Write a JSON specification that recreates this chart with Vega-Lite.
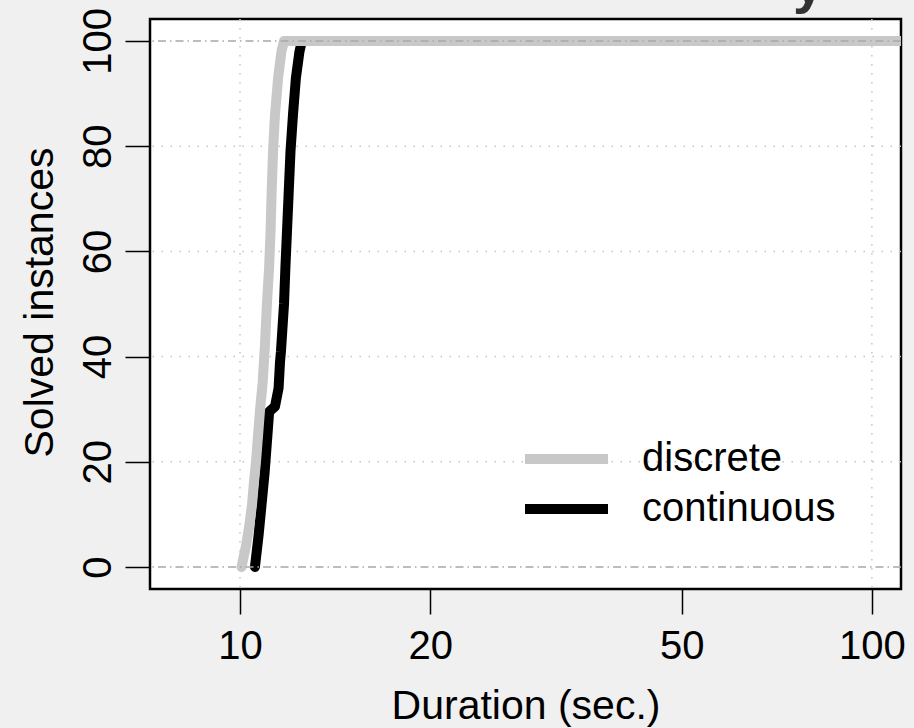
{
  "$schema": "https://vega.github.io/schema/vega-lite/v6.json",
  "width": 751,
  "height": 570,
  "autosize": {"type": "none"},
  "padding": {"left": 150, "top": 19, "right": 13, "bottom": 139},
  "background": "#f0f0f0",
  "config": {
    "font": "Liberation Sans",
    "view": {"fill": "white", "stroke": "black", "strokeWidth": 2.5}
  },
  "title": {
    "text": "y",
    "anchor": "start",
    "frame": "group",
    "dx": 643,
    "offset": -50,
    "baseline": "alphabetic",
    "fontSize": 56,
    "fontWeight": "bold",
    "color": "#333333",
    "font": "Liberation Sans"
  },
  "datasets": {
    "curves": [
      {"series": "continuous", "t": 10.56, "n": 0},
      {"series": "continuous", "t": 10.70, "n": 6},
      {"series": "continuous", "t": 10.82, "n": 12},
      {"series": "continuous", "t": 10.94, "n": 18},
      {"series": "continuous", "t": 11.05, "n": 25},
      {"series": "continuous", "t": 11.12, "n": 29.5},
      {"series": "continuous", "t": 11.36, "n": 30.5},
      {"series": "continuous", "t": 11.51, "n": 34},
      {"series": "continuous", "t": 11.57, "n": 39},
      {"series": "continuous", "t": 11.61, "n": 41},
      {"series": "continuous", "t": 11.74, "n": 50},
      {"series": "continuous", "t": 11.80, "n": 57},
      {"series": "continuous", "t": 11.87, "n": 64},
      {"series": "continuous", "t": 11.94, "n": 71},
      {"series": "continuous", "t": 12.02, "n": 79},
      {"series": "continuous", "t": 12.13, "n": 86},
      {"series": "continuous", "t": 12.26, "n": 93},
      {"series": "continuous", "t": 12.42, "n": 98},
      {"series": "continuous", "t": 12.53, "n": 100},
      {"series": "continuous", "t": 111, "n": 100},
      {"series": "discrete", "t": 10.055, "n": 0},
      {"series": "discrete", "t": 10.22, "n": 4},
      {"series": "discrete", "t": 10.35, "n": 8},
      {"series": "discrete", "t": 10.45, "n": 12},
      {"series": "discrete", "t": 10.52, "n": 16},
      {"series": "discrete", "t": 10.60, "n": 20},
      {"series": "discrete", "t": 10.68, "n": 25},
      {"series": "discrete", "t": 10.76, "n": 30},
      {"series": "discrete", "t": 10.86, "n": 35},
      {"series": "discrete", "t": 10.95, "n": 42},
      {"series": "discrete", "t": 11.03, "n": 50},
      {"series": "discrete", "t": 11.12, "n": 57},
      {"series": "discrete", "t": 11.18, "n": 64},
      {"series": "discrete", "t": 11.22, "n": 71},
      {"series": "discrete", "t": 11.28, "n": 79},
      {"series": "discrete", "t": 11.36, "n": 86},
      {"series": "discrete", "t": 11.49, "n": 93},
      {"series": "discrete", "t": 11.63, "n": 98},
      {"series": "discrete", "t": 11.74, "n": 100},
      {"series": "discrete", "t": 111, "n": 100}
    ]
  },
  "layer": [
    {
      "data": {"values": [{"t": 10}, {"t": 100}]},
      "mark": {"type": "rule", "color": "#c4c4c4", "strokeWidth": 1.5, "strokeDash": [1.5, 7.5]},
      "encoding": {
        "x": {
          "field": "t", "type": "quantitative",
          "scale": {"type": "log", "domain": [7.204, 111.2], "nice": false, "zero": false},
          "axis": {
            "values": [10, 20, 50, 100], "format": "d", "title": "Duration (sec.)",
            "grid": false, "domain": false, "tickSize": 25, "tickWidth": 1.5, "tickColor": "black",
            "labelFontSize": 40, "labelColor": "black", "labelBaseline": "alphabetic", "labelPadding": 44, "labelFlush": false,
            "titleFontSize": 41, "titleFontWeight": "normal", "titleColor": "black", "titleBaseline": "alphabetic", "titleY": 129
          }
        }
      }
    },
    {
      "data": {"values": [{"n": 20}, {"n": 40}, {"n": 60}, {"n": 80}]},
      "mark": {"type": "rule", "color": "#c4c4c4", "strokeWidth": 1.5, "strokeDash": [1.5, 7.5]},
      "encoding": {
        "y": {
          "field": "n", "type": "quantitative",
          "scale": {"domain": [-4.18, 104.18], "nice": false, "zero": false},
          "axis": {
            "values": [0, 20, 40, 60, 80, 100], "title": "Solved instances",
            "grid": false, "domain": false, "tickSize": 25, "tickWidth": 1.5, "tickColor": "black",
            "labelFontSize": 40, "labelColor": "black", "labelAngle": 270, "labelAlign": "center", "labelBaseline": "alphabetic", "labelPadding": 15,
            "titleFontSize": 41, "titleFontWeight": "normal", "titleColor": "black", "titleAngle": 270, "titleAlign": "center", "titleBaseline": "alphabetic", "titleX": -98, "titleY": 283
          }
        }
      }
    },
    {
      "data": {"name": "curves"},
      "transform": [{"filter": "datum.series === 'continuous'"}],
      "mark": {"type": "line", "strokeWidth": 10, "strokeCap": "round", "strokeJoin": "round", "clip": true},
      "encoding": {
        "x": {"field": "t", "type": "quantitative"},
        "y": {"field": "n", "type": "quantitative"},
        "color": {
          "field": "series", "type": "nominal",
          "scale": {"domain": ["discrete", "continuous"], "range": ["#c8c8c8", "#000000"]},
          "legend": {
            "orient": "none", "legendX": 370, "legendY": 420, "title": null,
            "symbolType": "stroke", "symbolSize": 6889, "symbolStrokeWidth": 10,
            "labelFontSize": 40, "labelColor": "black", "labelOffset": 29, "labelLimit": 400,
            "clipHeight": 40, "rowPadding": 10, "padding": 0
          }
        }
      }
    },
    {
      "data": {"name": "curves"},
      "transform": [{"filter": "datum.series === 'discrete'"}],
      "mark": {"type": "line", "strokeWidth": 10, "strokeCap": "round", "strokeJoin": "round", "clip": true},
      "encoding": {
        "x": {"field": "t", "type": "quantitative"},
        "y": {"field": "n", "type": "quantitative"},
        "color": {"field": "series", "type": "nominal"}
      }
    },
    {
      "data": {"values": [{"n": 0}, {"n": 100}]},
      "mark": {"type": "rule", "color": "#a8a8a8", "strokeWidth": 1.5, "strokeDash": [8, 4, 1.5, 4]},
      "encoding": {
        "y": {"field": "n", "type": "quantitative"}
      }
    }
  ]
}
